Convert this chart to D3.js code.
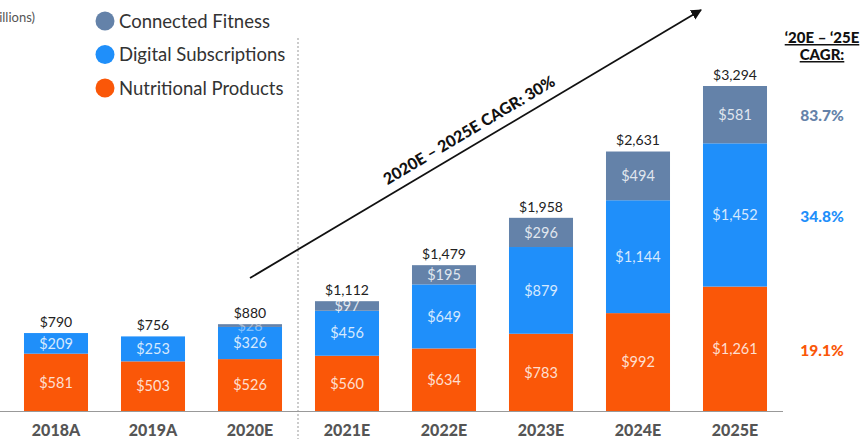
<!DOCTYPE html>
<html lang="en">
<head>
<meta charset="utf-8">
<title>Revenue build</title>
<style>
  body { margin: 0; background: #fff; }
  svg text { font-family: Lato, "Open Sans", sans-serif; }
</style>
</head>
<body>
<script src="https://d3js.org/d3.v7.min.js"></script>
<script>
const width = 864, height = 439;

// data ($ in millions)
const years = ["2018A", "2019A", "2020E", "2021E", "2022E", "2023E", "2024E", "2025E"];
const nutritional = [581, 503, 526, 560, 634, 783, 992, 1261];
const digital = [209, 253, 326, 456, 649, 879, 1144, 1452];
const connected = [0, 0, 28, 97, 195, 296, 494, 581];
const totals = [790, 756, 880, 1112, 1479, 1958, 2631, 3294];
const seriesNames = ["Nutritional Products", "Digital Subscriptions", "Connected Fitness"];
const cagrLabels = ["19.1%", "34.8%", "83.7%"];

const colors = ["#fa5708", "#1f8ffa", "#6482a9"];

const svg = d3.select("body").append("svg")
    .attr("width", width)
    .attr("height", height);

const rows = years.map((y, i) => ({
  year: y,
  "Nutritional Products": nutritional[i],
  "Digital Subscriptions": digital[i],
  "Connected Fitness": connected[i]
}));
const stacked = d3.stack().keys(seriesNames)(rows);

const x = d3.scaleBand()
    .domain(years)
    .range([7.5, 783.5])
    .paddingInner(0.34)
    .paddingOuter(0.17);

const y = d3.scaleLinear()
    .domain([0, 3294])
    .range([411, 86]);

// dashed divider between history and forecast
svg.append("line")
    .attr("x1", 298).attr("x2", 298)
    .attr("y1", 38).attr("y2", height)
    .attr("stroke", "#999")
    .attr("stroke-width", 1)
    .attr("stroke-dasharray", "2,2");

// bars
const layer = svg.selectAll("g.layer")
  .data(stacked)
  .join("g")
    .attr("class", "layer")
    .attr("fill", (d, i) => colors[i]);

layer.selectAll("rect")
  .data(d => d)
  .join("rect")
    .attr("x", d => x(d.data.year))
    .attr("y", d => y(d[1]))
    .attr("width", x.bandwidth())
    .attr("height", d => y(d[0]) - y(d[1]));

// segment labels
layer.selectAll("text")
  .data(d => d.filter(s => s[1] - s[0] > 0))
  .join("text")
    .attr("x", d => x(d.data.year) + x.bandwidth() / 2)
    .attr("y", d => (y(d[0]) + y(d[1])) / 2)
    .attr("dy", "0.36em")
    .attr("text-anchor", "middle")
    .attr("fill", "#fff")
    .attr("fill-opacity", (d) => (d[1] - d[0]) < 50 ? 0.45 : 0.82)
    .style("font-size", "14.5px")
    .text(d => "$" + d3.format(",")(d[1] - d[0]));

// totals
svg.selectAll("text.total")
  .data(years)
  .join("text")
    .attr("class", "total")
    .attr("x", d => x(d) + x.bandwidth() / 2)
    .attr("y", (d, i) => y(totals[i]) - 6)
    .attr("text-anchor", "middle")
    .attr("fill", "#222")
    .style("font-size", "14px")
    .text((d, i) => "$" + d3.format(",")(totals[i]));

// x axis
const xAxis = svg.append("g")
    .attr("transform", "translate(0,411)")
    .call(d3.axisBottom(x).tickSize(0).tickPadding(14));
xAxis.select(".domain").attr("d", "M0,0.5H783").attr("stroke", "#999");
xAxis.selectAll("text")
    .attr("fill", "#555")
    .style("font-size", "16px")
    .style("font-weight", "900")
    .style("font-family", "Lato, sans-serif");

// units
svg.append("text")
    .attr("x", 35).attr("y", 22)
    .attr("text-anchor", "end")
    .attr("fill", "#555")
    .style("font-size", "13px")
    .text("($ in millions)");

// legend
const legendOrder = [2, 1, 0];
const legend = svg.selectAll("g.legend")
  .data(legendOrder)
  .join("g")
    .attr("class", "legend")
    .attr("transform", (d, i) => `translate(105,${21 + i * 33.5})`);
legend.append("circle").attr("r", 9.5).attr("fill", d => colors[d]);
legend.append("text")
    .attr("x", 14).attr("dy", "0.36em")
    .attr("fill", "#333")
    .style("font-size", "18.5px")
    .text(d => seriesNames[d]);

// CAGR arrow
const defs = svg.append("defs");
defs.append("marker")
    .attr("id", "arrow")
    .attr("viewBox", "0 0 10 10")
    .attr("refX", 9).attr("refY", 5)
    .attr("markerWidth", 6).attr("markerHeight", 6)
    .attr("orient", "auto")
  .append("path")
    .attr("d", "M0,0L10,5L0,10z")
    .attr("fill", "#111");

svg.append("line")
    .attr("x1", 250).attr("y1", 278)
    .attr("x2", 701).attr("y2", 10)
    .attr("stroke", "#111")
    .attr("stroke-width", 1.8)
    .attr("marker-end", "url(#arrow)");

const angle = Math.atan2(10 - 278, 701 - 250) * 180 / Math.PI;
svg.append("text")
    .attr("transform", `translate(472,135) rotate(${angle})`)
    .attr("text-anchor", "middle")
    .attr("fill", "#111")
    .style("font-size", "16px")
    .style("font-weight", "900")
    .text("2020E – 2025E CAGR: 30%");

// CAGR column
svg.append("text")
    .attr("x", 822).attr("y", 43)
    .attr("text-anchor", "middle")
    .attr("fill", "#111")
    .style("font-size", "15px")
    .style("font-weight", "900")
    .style("text-decoration", "underline")
    .text("‘20E – ‘25E");
svg.append("text")
    .attr("x", 822).attr("y", 60)
    .attr("text-anchor", "middle")
    .attr("fill", "#111")
    .style("font-size", "15px")
    .style("font-weight", "900")
    .style("text-decoration", "underline")
    .text("CAGR:");

svg.selectAll("text.cagr")
  .data(cagrLabels)
  .join("text")
    .attr("class", "cagr")
    .attr("x", 822)
    .attr("y", (d, i) => [350, 216, 115][i])
    .attr("dy", "0.36em")
    .attr("text-anchor", "middle")
    .attr("fill", (d, i) => colors[i])
    .style("font-size", "15.5px")
    .style("font-weight", "900")
    .text(d => d);
</script>
</body>
</html>
